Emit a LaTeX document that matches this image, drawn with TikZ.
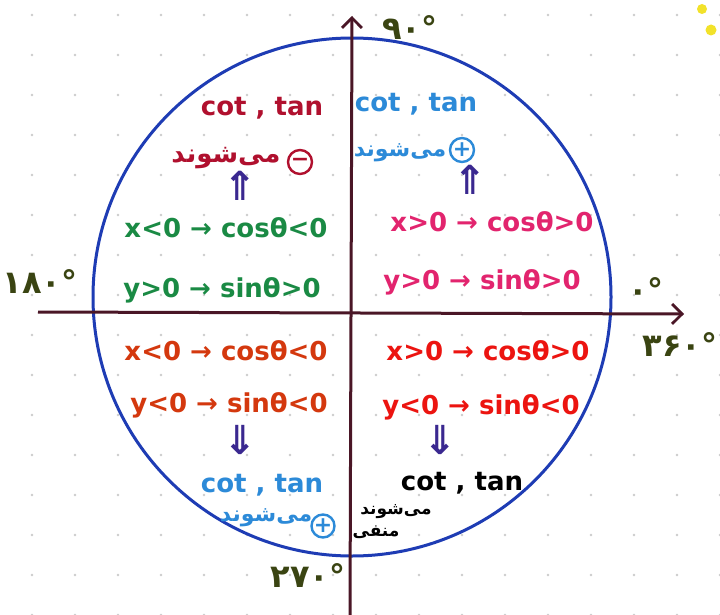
\documentclass[tikz,border=0pt]{standalone}
\usepackage{fontspec}
\setmainfont{DejaVu Sans}
\newfontfamily\arabicfont[Script=Arabic]{DejaVu Sans}
\TeXXeTstate=1
\usetikzlibrary{arrows.meta}
\definecolor{axiscol}{HTML}{4A1626}
\definecolor{circcol}{HTML}{1E3CB4}
\definecolor{qtwored}{HTML}{B0102E}
\definecolor{qoneblue}{HTML}{2C8AD8}
\definecolor{arrpurple}{HTML}{3A2890}
\definecolor{qtwogreen}{HTML}{1A8A44}
\definecolor{qonepink}{HTML}{E2246E}
\definecolor{qthreeorange}{HTML}{D4380E}
\definecolor{qfourred}{HTML}{EC1410}
\definecolor{degcol}{HTML}{3A4412}
\definecolor{hiyellow}{HTML}{F2E22A}
\newcommand{\fa}[1]{{\arabicfont\beginR #1\endR}}
\begin{document}
\begin{tikzpicture}[x=1pt,y=-1pt,
  lbl/.style={inner sep=0pt, font=\fontsize{26}{30}\selectfont\bfseries},
  trig/.style={inner sep=0pt, font=\fontsize{26}{30}\selectfont\bfseries},
  fanode/.style={inner sep=0pt, font=\fontsize{26}{30}\selectfont\bfseries},
  signcirc/.style={circle, draw, line width=2.4pt, minimum size=24pt, inner sep=0pt, font=\fontsize{22}{22}\selectfont\bfseries},
  dblarrow/.style={inner sep=0pt, text=arrpurple, font=\fontsize{40}{40}\selectfont\bfseries},
  deg/.style={inner sep=0pt, text=degcol, font=\fontsize{32}{36}\selectfont\bfseries},
  axisline/.style={axiscol, line width=3pt, -{Straight Barb[length=10pt,width=20pt,line width=2.8pt]}}]
\useasboundingbox (0,0) rectangle (720,615);
\fill[white] (0,0) rectangle (720,615);
% grid paper dots
\foreach \i in {0,...,16} {
  \foreach \j in {0,...,15} {
    \fill[gray!40] (32+43*\i, 15+40*\j) circle[radius=1.3pt];
  }
}
% highlighter marks
\fill[hiyellow] (702,9) circle[radius=5pt];
\fill[hiyellow] (711,30) circle[radius=5.5pt];
% circle
\draw[circcol, line width=3pt] (352,297) circle[radius=259pt];
% axes
\coordinate (vbot) at (350,615);
\coordinate (vtop) at (352,16);
\coordinate (hleft) at (38,312);
\coordinate (hright) at (684,314);
\draw[axisline] (vbot) -- (vtop);
\draw[axisline] (hleft) -- (hright);
% degree labels
\node[deg] (d90) at (410,28) {\arabicfont ۹۰°};
\node[deg] (d180) at (40,282) {\arabicfont ۱۸۰°};
\node[deg] (d0) at (646,290) {\arabicfont ۰°};
\node[deg] (d360) at (680,345) {\arabicfont ۳۶۰°};
\node[deg] (d270) at (308,576) {\arabicfont ۲۷۰°};
% Quadrant II (top-left)
\node[lbl, text=qtwored] (q2ct) at (262,108) {cot , tan};
\node[fanode, text=qtwored] (q2fa) at (226,158) {\fa{می^^^^200cشوند}};
\node[signcirc, draw=qtwored, text=qtwored] (q2sg) at (300,162) {−};
\node[dblarrow] (q2ar) at (240,186) {⇑};
\node[trig, text=qtwogreen] (q2x) at (226,228) {x<0 → cosθ<0};
\node[trig, text=qtwogreen] (q2y) at (222,290) {y>0 → sinθ>0};
% Quadrant I (top-right)
\node[lbl, text=qoneblue] (q1ct) at (416,104) {cot , tan};
\node[fanode, text=qoneblue, font=\fontsize{22}{26}\selectfont\bfseries] (q1fa) at (400,153) {\fa{می^^^^200cشوند}};
\node[signcirc, draw=qoneblue, text=qoneblue] (q1sg) at (462,150) {+};
\node[dblarrow] (q1ar) at (470,180) {⇑};
\node[trig, text=qonepink] (q1x) at (492,222) {x>0 → cosθ>0};
\node[trig, text=qonepink] (q1y) at (482,282) {y>0 → sinθ>0};
% Quadrant III (bottom-left)
\node[trig, text=qthreeorange] (q3x) at (226,351) {x<0 → cosθ<0};
\node[trig, text=qthreeorange] (q3y) at (229,405) {y<0 → sinθ<0};
\node[dblarrow] (q3ar) at (240,440) {⇓};
\node[lbl, text=qoneblue] (q3ct) at (262,485) {cot , tan};
\node[fanode, text=qoneblue, font=\fontsize{22}{24}\selectfont\bfseries] (q3fa) at (266,518) {\fa{می^^^^200cشوند}};
\node[signcirc, draw=qoneblue, text=qoneblue, minimum size=21pt] (q3sg) at (323,526) {+};
% Quadrant IV (bottom-right)
\node[trig, text=qfourred] (q4x) at (488,351) {x>0 → cosθ>0};
\node[trig, text=qfourred] (q4y) at (481,407) {y<0 → sinθ<0};
\node[dblarrow] (q4ar) at (440,440) {⇓};
\node[lbl, text=black] (q4ct) at (462,483) {cot , tan};
\node[fanode, text=black, font=\fontsize{17}{20}\selectfont\bfseries] (q4fb) at (396,512) {\fa{می^^^^200cشوند}};
\node[fanode, text=black, font=\fontsize{17}{20}\selectfont\bfseries] (q4fa) at (376,532) {\fa{منفی}};
\end{tikzpicture}
\end{document}
